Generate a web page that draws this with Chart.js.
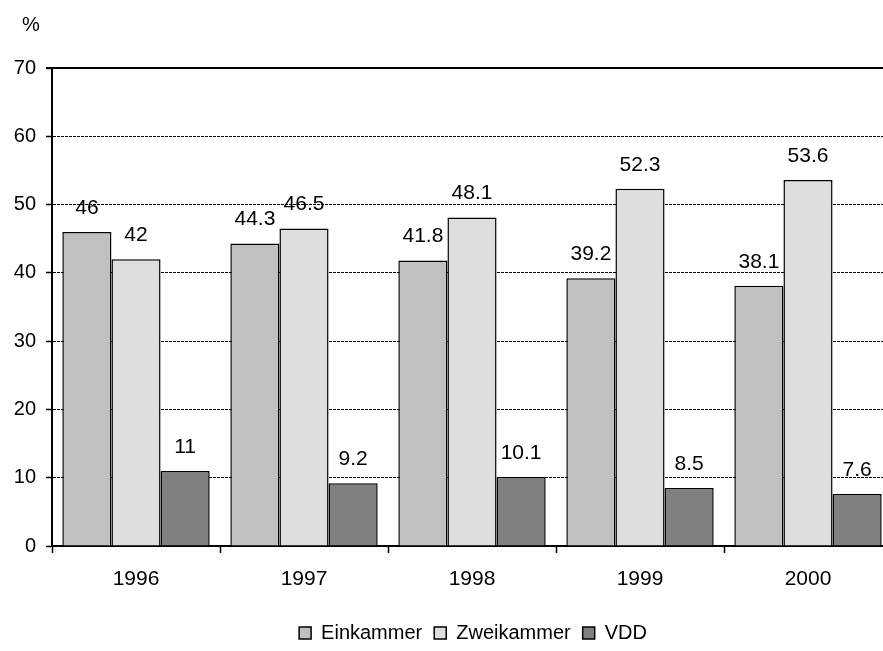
<!DOCTYPE html>
<html>
<head>
<meta charset="utf-8">
<script src="https://cdn.jsdelivr.net/npm/chart.js@4/dist/chart.umd.min.js"></script>
<style>
  html, body { margin: 0; padding: 0; background: #fff; overflow: hidden; }
  #wrap { width: 883px; height: 651px; overflow: hidden; }
</style>
</head>
<body>
<div id="wrap"><canvas id="c" width="892" height="651"></canvas></div>
<script>
// Daten
const years       = ['1996', '1997', '1998', '1999', '2000'];
const einkammer   = [46, 44.3, 41.8, 39.2, 38.1];
const zweikammer  = [42, 46.5, 48.1, 52.3, 53.6];
const vdd         = [11, 9.2, 10.1, 8.5, 7.6];
const yTicks      = [0, 10, 20, 30, 40, 50, 60, 70];

const FONT = "'Liberation Sans', Arial, sans-serif";

// Wert über jedem Balken
const valueLabels = {
  id: 'valueLabels',
  afterDatasetsDraw(chart) {
    const ctx = chart.ctx;
    ctx.save();
    ctx.font = '21px ' + FONT;
    ctx.fillStyle = '#000';
    ctx.textAlign = 'center';
    ctx.textBaseline = 'middle';
    chart.data.datasets.forEach((ds, i) => {
      chart.getDatasetMeta(i).data.forEach((bar, j) => {
        ctx.fillText(String(ds.data[j]), bar.x, bar.y - 24);
      });
    });
    ctx.restore();
  }
};

// "%" oben links, durchgezogene Linie bei 70, Legende etwas nach rechts
const frame = {
  id: 'frame',
  afterLayout(chart) {
    const l = chart.legend;
    l.left += 27; l.right += 27;
    l.top += 2; l.bottom += 2;
  },
  afterDraw(chart) {
    const ctx = chart.ctx;
    const a = chart.chartArea;
    const y = chart.scales.y.getPixelForValue(70);
    ctx.save();
    ctx.strokeStyle = '#000';
    ctx.lineWidth = 2;
    ctx.beginPath();
    ctx.moveTo(a.left - 6, y);
    ctx.lineTo(a.right, y);
    ctx.stroke();
    ctx.font = '20px ' + FONT;
    ctx.fillStyle = '#000';
    ctx.textAlign = 'center';
    ctx.textBaseline = 'middle';
    ctx.fillText('%', 31, 25);
    ctx.restore();
  }
};

new Chart(document.getElementById('c'), {
  type: 'bar',
  data: {
    labels: years,
    datasets: [
      { label: 'Einkammer',  data: einkammer,  backgroundColor: '#c0c0c0' },
      { label: 'Zweikammer', data: zweikammer, backgroundColor: '#dedede' },
      { label: 'VDD',        data: vdd,        backgroundColor: '#808080' },
    ].map(d => Object.assign(d, {
      borderColor: '#000',
      borderWidth: 1.5,
      categoryPercentage: 0.877,
      barPercentage: 1.0,
    })),
  },
  options: {
    responsive: false,
    animation: false,
    layout: { padding: { top: 68, left: 0, right: 0, bottom: 0 } },
    plugins: {
      legend: {
        position: 'bottom',
        labels: {
          font: { family: FONT, size: 20 },
          color: '#000',
          boxWidth: 12,
          boxHeight: 12,
          padding: 12,
        },
      },
      tooltip: { enabled: false },
    },
    scales: {
      x: {
        afterFit: s => { s.height = 63; },
        grid: { offset: true, drawOnChartArea: false, tickLength: 7, tickColor: '#000', tickWidth: 1.5 },
        border: { color: '#000', width: 2 },
        ticks: { font: { family: FONT, size: 21 }, color: '#000', padding: 14 },
      },
      y: {
        min: 0,
        max: 70,
        afterFit: s => { s.width = 52; },
        afterBuildTicks: s => { s.ticks = yTicks.map(v => ({ value: v })); },
        grid: { color: '#000', lineWidth: 1, tickLength: 6, tickColor: '#000', tickWidth: 1.5 },
        border: { color: '#000', width: 2, dash: [3, 1] },
        ticks: { font: { family: FONT, size: 20 }, color: '#000', padding: 10 },
      },
    },
  },
  plugins: [valueLabels, frame],
});
</script>
</body>
</html>
